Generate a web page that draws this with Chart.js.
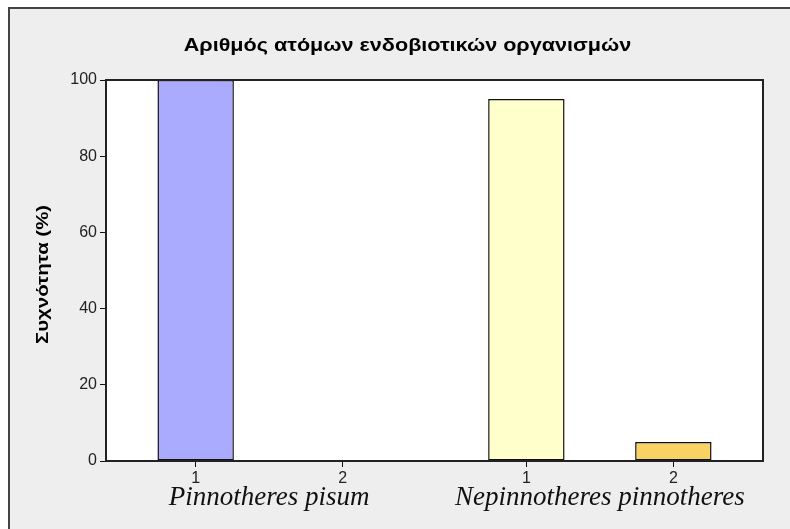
<!DOCTYPE html>
<html>
<head>
<meta charset="utf-8">
<script src="https://cdn.jsdelivr.net/npm/chart.js@4.4.1/dist/chart.umd.min.js"></script>
<style>
  html, body { margin: 0; padding: 0; background: #fff; }
  #wrap { width: 790px; height: 529px; }
</style>
</head>
<body>
<div id="wrap"><canvas id="grafico" width="790" height="529"></canvas></div>
<script>
// Datos: dos especies, dos sub-clases cada una
const titulo = "Αριθμός ατόμων ενδοβιοτικών οργανισμών";
const tituloY = "Συχνότητα (%)";
const grupos = ["Pinnotheres pisum", "Nepinnotheres pinnotheres"];
const subClases = ["1", "2"];
const valores = [[100, 0], [95, 5]];
const ticksY = [0, 20, 40, 60, 80, 100];

const colores = [["#aaaaff", "#aaaaff"], ["#ffffcc", "#f9d266"]];
const separacionGrupos = 0.25;

// posición de cada barra sobre el eje lineal
const puntos = [], fondo = [], etiquetas = {};
grupos.forEach((g, gi) => {
    subClases.forEach((s, si) => {
        let x = 1 + gi * (subClases.length + separacionGrupos) + si;
        puntos.push({ x: x, y: valores[gi][si] });
        fondo.push(colores[gi][si]);
        etiquetas[x] = s;
    });
});
const centrosGrupo = grupos.map((g, gi) => 1 + gi * (subClases.length + separacionGrupos) + (subClases.length - 1) / 2);
const xMin = 0.39, xMax = puntos[puntos.length - 1].x + 0.61;

// texto algo ensanchado, como en la fuente original
function textoAncho(c, txt, x, y, font, giro) {
    c.save();
    c.translate(x, y);
    if (giro) c.rotate(-Math.PI / 2);
    c.scale(1.2, 1);
    c.font = font;
    c.fillStyle = '#000';
    c.textAlign = 'center';
    c.textBaseline = 'middle';
    c.fillText(txt, 0, 0);
    c.restore();
}

// fondo gris con marco, área de trazado blanca y títulos
const marcoPlugin = {
    id: 'marco',
    beforeDraw(chart) {
        const c = chart.ctx, a = chart.chartArea;
        c.save();
        c.fillStyle = '#ffffff';
        c.fillRect(0, 0, chart.width, chart.height);
        c.fillStyle = '#eeeeee';
        c.fillRect(9, 8, chart.width, chart.height);
        c.strokeStyle = '#444444';
        c.lineWidth = 2;
        c.strokeRect(9, 8, chart.width + 10, chart.height + 10);
        c.fillStyle = '#ffffff';
        c.fillRect(a.left, a.top, a.right - a.left, a.bottom - a.top);
        c.restore();
        textoAncho(c, titulo, (a.left + a.right) / 2 - 27, 46,
            'bold 18px "Liberation Sans", Arial, sans-serif', false);
        textoAncho(c, tituloY, 43, (a.top + a.bottom) / 2 + 4,
            'bold 17px "Liberation Sans", Arial, sans-serif', true);
    },
    afterDatasetsDraw(chart) {
        const c = chart.ctx, a = chart.chartArea;
        c.save();
        c.strokeStyle = '#222';
        c.lineWidth = 2;
        c.strokeRect(a.left, a.top, a.right - a.left, a.bottom - a.top);
        c.restore();
    }
};

const ctx = document.getElementById('grafico').getContext('2d');
new Chart(ctx, {
    type: 'bar',
    data: {
        datasets: [{
            data: puntos,
            backgroundColor: fondo,
            borderColor: '#111',
            borderWidth: (c) => (c.raw && c.raw.y === 0 ? 0 : 1.5),
            borderSkipped: false,
            barPercentage: 0.52,
            categoryPercentage: 1
        }]
    },
    options: {
        responsive: false,
        animation: false,
        layout: { padding: { left: 29, right: 27, top: 80, bottom: 16 } },
        plugins: { legend: { display: false }, tooltip: { enabled: false } },
        scales: {
            x: {
                type: 'linear',
                min: xMin,
                max: xMax,
                offset: false,
                weight: 0,
                afterBuildTicks: (s) => { s.ticks = puntos.map(p => ({ value: p.x })); },
                afterFit: (s) => { s.height = 22; },
                grid: { offset: false, drawOnChartArea: false, drawTicks: true, tickLength: 6, color: '#111' },
                border: { display: false },
                ticks: {
                    autoSkip: false, maxRotation: 0, padding: 2, color: '#222',
                    font: { family: '"Liberation Sans", Arial, sans-serif', size: 16 },
                    callback: (v) => etiquetas[v]
                }
            },
            x2: {
                type: 'linear',
                position: 'bottom',
                min: xMin,
                max: xMax,
                offset: false,
                weight: 1,
                afterBuildTicks: (s) => { s.ticks = centrosGrupo.map(v => ({ value: v })); },
                afterFit: (s) => { s.height = 30; },
                grid: { display: false, drawTicks: false, offset: false },
                border: { display: false },
                ticks: {
                    autoSkip: false, maxRotation: 0, padding: -1, color: '#111',
                    font: { family: '"Liberation Serif", "Times New Roman", serif', size: 27, style: 'italic' },
                    callback: (v) => grupos[centrosGrupo.indexOf(v)]
                }
            },
            y: {
                min: 0,
                max: 100,
                afterBuildTicks: (s) => { s.ticks = ticksY.map(v => ({ value: v })); },
                afterFit: (s) => { s.width = 77; },
                grid: { drawOnChartArea: false, drawTicks: true, tickLength: 6, color: '#111' },
                border: { display: false },
                ticks: {
                    padding: 3, color: '#222',
                    font: { family: '"Liberation Sans", Arial, sans-serif', size: 16 }
                }
            }
        }
    },
    plugins: [marcoPlugin]
});
</script>
</body>
</html>
